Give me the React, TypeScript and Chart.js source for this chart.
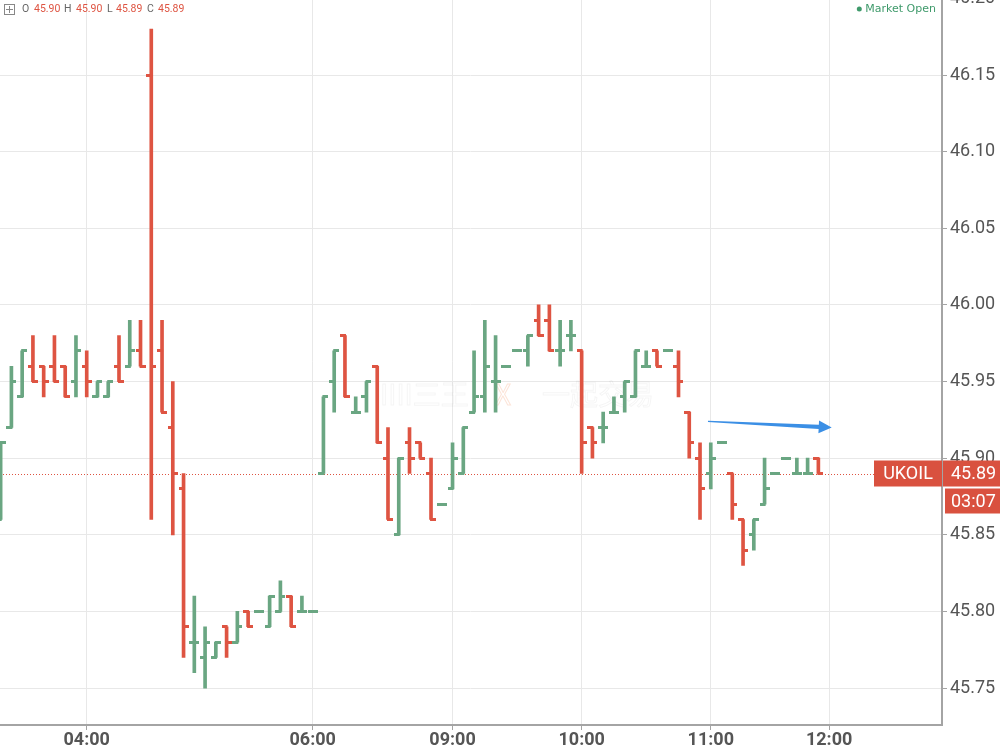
import React, { useEffect, useRef } from "react";
import { Chart, registerables } from "chart.js";

Chart.register(...registerables);

// ---- data (5-minute OHLC bars) ----
const opens = [
  45.86, 45.92, 45.94, 45.96, 45.96, 45.96, 45.96, 45.95, 45.96, 45.94,
  45.94, 45.96, 45.96, 45.97, 46.15, 45.97, 45.92, 45.88, 45.78, 45.77,
  45.77, 45.79, 45.78, 45.80, 45.80, 45.79, 45.80, 45.81, 45.80, 45.80,
  45.89, 45.95, 45.98, 45.93, 45.94, 45.96, 45.90, 45.85, 45.91, 45.91,
  45.89, 45.87, 45.88, 45.89, 45.93, 45.94, 45.95, 45.96, 45.97, 45.97,
  45.99, 45.99, 45.97, 45.98, 45.97, 45.92, 45.92, 45.93, 45.94, 45.94,
  45.96, 45.97, 45.97, 45.96, 45.93, 45.90, 45.89, 45.91, 45.89, 45.86,
  45.85, 45.87, 45.89, 45.90, 45.89, 45.89, 45.90,
];
const highs = [
  45.91, 45.96, 45.97, 45.98, 45.96, 45.98, 45.96, 45.98, 45.97, 45.95,
  45.95, 45.98, 45.99, 45.99, 46.18, 45.99, 45.95, 45.89, 45.81, 45.79,
  45.78, 45.79, 45.80, 45.80, 45.80, 45.81, 45.82, 45.81, 45.81, 45.80,
  45.94, 45.97, 45.98, 45.94, 45.95, 45.96, 45.92, 45.90, 45.92, 45.91,
  45.90, 45.87, 45.91, 45.92, 45.97, 45.99, 45.98, 45.96, 45.97, 45.98,
  46.00, 46.00, 45.99, 45.99, 45.97, 45.92, 45.93, 45.94, 45.95, 45.97,
  45.97, 45.97, 45.97, 45.97, 45.93, 45.91, 45.91, 45.91, 45.89, 45.86,
  45.86, 45.90, 45.89, 45.90, 45.90, 45.90, 45.90,
];
const lows = [
  45.86, 45.92, 45.94, 45.95, 45.94, 45.95, 45.94, 45.94, 45.94, 45.94,
  45.94, 45.95, 45.96, 45.96, 45.86, 45.93, 45.85, 45.77, 45.76, 45.75,
  45.77, 45.77, 45.78, 45.79, 45.80, 45.79, 45.80, 45.79, 45.80, 45.80,
  45.89, 45.93, 45.94, 45.93, 45.93, 45.91, 45.86, 45.85, 45.89, 45.90,
  45.86, 45.87, 45.88, 45.89, 45.93, 45.93, 45.93, 45.96, 45.97, 45.96,
  45.98, 45.97, 45.96, 45.97, 45.89, 45.90, 45.91, 45.93, 45.93, 45.94,
  45.96, 45.96, 45.97, 45.94, 45.90, 45.86, 45.88, 45.91, 45.86, 45.83,
  45.84, 45.87, 45.89, 45.90, 45.89, 45.89, 45.89,
];
const closes = [
  45.91, 45.95, 45.97, 45.95, 45.95, 45.95, 45.94, 45.97, 45.95, 45.95,
  45.95, 45.95, 45.97, 45.96, 45.96, 45.93, 45.89, 45.79, 45.78, 45.78,
  45.78, 45.78, 45.79, 45.79, 45.80, 45.81, 45.81, 45.79, 45.80, 45.80,
  45.94, 45.97, 45.94, 45.93, 45.95, 45.91, 45.86, 45.90, 45.90, 45.90,
  45.86, 45.87, 45.90, 45.92, 45.94, 45.96, 45.95, 45.96, 45.97, 45.98,
  45.98, 45.97, 45.97, 45.98, 45.91, 45.91, 45.92, 45.93, 45.95, 45.97,
  45.96, 45.96, 45.97, 45.95, 45.91, 45.88, 45.90, 45.91, 45.87, 45.84,
  45.86, 45.88, 45.89, 45.90, 45.89, 45.89, 45.89,
];
const timeTickIndex = [8, 29, 42, 54, 66, 77];
const timeTickLabels = ["04:00", "06:00", "09:00", "10:00", "11:00", "12:00"];
const priceTicks = [45.75, 45.8, 45.85, 45.9, 45.95, 46.0, 46.05, 46.1, 46.15, 46.2];
const symbol = "UKOIL";
const lastPrice = 45.89;
const countdown = "03:07";
const headerFields = [
  ["O", "45.90"],
  ["H", "45.90"],
  ["L", "45.89"],
  ["C", "45.89"],
];
const marketStatus = "Market Open";
const arrowFrom = [65.74, 45.924];
const arrowTo = [77.24, 45.92];

// ---- styling ----
const OFFSET = 22;
const UP = "#6aa682";
const DOWN = "#de5442";
const TAG = "#d9513f";
const GRID = "#e8e8e8";
const AXIS = "#a4a4a4";
const TEXT = "#555555";
const HEADER_KEY_X = [22, 64, 107, 147];
const HEADER_VAL_X = [34, 76, 116, 158];

export default function App() {
  const ref = useRef<HTMLCanvasElement>(null);

  useEffect(() => {
    const canvas = ref.current!;
    const mk = (color: string, side: "left" | "right") => {
      const c = document.createElement("canvas");
      c.width = 10;
      c.height = 3;
      const g = c.getContext("2d")!;
      g.fillStyle = color;
      if (side === "left") g.fillRect(0, 0, 6, 3);
      else g.fillRect(4, 0, 6, 3);
      return c;
    };
    const upL = mk(UP, "left");
    const upR = mk(UP, "right");
    const dnL = mk(DOWN, "left");
    const dnR = mk(DOWN, "right");
    const isUp = (i: number) => closes[i] >= opens[i];

    const overlay = {
      id: "overlay",
      beforeDatasetsDraw(chart: any) {
        const { ctx, chartArea, scales } = chart;
        ctx.save();
        // watermark
        ctx.font = '28px "Noto Sans CJK SC"';
        ctx.textBaseline = "middle";
        ctx.lineWidth = 1;
        ctx.strokeStyle = "rgba(0,0,0,0.045)";
        const wy = 394 + OFFSET;
        ctx.strokeText("IIII三王", 380, wy);
        ctx.strokeStyle = "rgba(240,120,60,0.2)";
        ctx.strokeText("X", 495, wy);
        ctx.strokeStyle = "rgba(0,0,0,0.045)";
        ctx.strokeText("一起交易", 542, wy);
        // last price dotted line
        const py = Math.round(scales.y.getPixelForValue(lastPrice)) + 0.5;
        ctx.strokeStyle = DOWN;
        ctx.lineWidth = 1;
        ctx.setLineDash([1, 2]);
        ctx.beginPath();
        ctx.moveTo(chartArea.left, py);
        ctx.lineTo(chartArea.right, py);
        ctx.stroke();
        ctx.restore();
      },
      afterDatasetsDraw(chart: any) {
        const { ctx, scales } = chart;
        const x0 = scales.x.getPixelForValue(arrowFrom[0]);
        const y0 = scales.y.getPixelForValue(arrowFrom[1]);
        const x1 = scales.x.getPixelForValue(arrowTo[0]);
        const y1 = scales.y.getPixelForValue(arrowTo[1]);
        const len = Math.hypot(x1 - x0, y1 - y0);
        const dx = (x1 - x0) / len;
        const dy = (y1 - y0) / len;
        const nx = -dy;
        const ny = dx;
        const headLen = 13;
        const bx = x1 - dx * headLen;
        const by = y1 - dy * headLen;
        ctx.save();
        ctx.fillStyle = "#3b8fe5";
        ctx.beginPath();
        ctx.moveTo(x0 + nx * 0.6, y0 + ny * 0.6);
        ctx.lineTo(bx + nx * 2.2, by + ny * 2.2);
        ctx.lineTo(bx + nx * 6.5, by + ny * 6.5);
        ctx.lineTo(x1, y1);
        ctx.lineTo(bx - nx * 6.5, by - ny * 6.5);
        ctx.lineTo(bx - nx * 2.2, by - ny * 2.2);
        ctx.lineTo(x0 - nx * 0.6, y0 - ny * 0.6);
        ctx.closePath();
        ctx.fill();
        ctx.restore();
      },
      afterDraw(chart: any) {
        const { ctx, chartArea, scales } = chart;
        const py = scales.y.getPixelForValue(lastPrice);
        ctx.save();
        // tags
        ctx.fillStyle = TAG;
        ctx.fillRect(chartArea.right - 68, py - 13, 68, 26);
        ctx.fillRect(chartArea.right + 1, py - 13, chart.width - chartArea.right - 1, 26);
        ctx.fillRect(chartArea.right + 3, py + 15, chart.width - chartArea.right - 3, 25);
        ctx.fillStyle = "#ffffff";
        ctx.font = "18px Roboto";
        ctx.textBaseline = "middle";
        ctx.textAlign = "center";
        ctx.fillText(symbol, chartArea.right - 34, py + 1);
        ctx.textAlign = "left";
        ctx.fillText(lastPrice.toFixed(2), chartArea.right + 9, py + 1);
        ctx.fillText(countdown, chartArea.right + 9, py + 28.5);
        // header
        const hy = 9 + OFFSET;
        ctx.strokeStyle = "#888";
        ctx.lineWidth = 1;
        ctx.strokeRect(4.5, 4.5 + OFFSET, 10, 10);
        ctx.beginPath();
        ctx.moveTo(9.5, 6 + OFFSET);
        ctx.lineTo(9.5, 13 + OFFSET);
        ctx.moveTo(6, 9.5 + OFFSET);
        ctx.lineTo(13, 9.5 + OFFSET);
        ctx.stroke();
        ctx.font = "10.5px Roboto";
        ctx.textAlign = "left";
        headerFields.forEach(([k, v], i) => {
          ctx.fillStyle = "#666";
          ctx.fillText(k, HEADER_KEY_X[i], hy + 0.5);
          ctx.fillStyle = DOWN;
          ctx.fillText(v, HEADER_VAL_X[i], hy + 0.5);
        });
        // market status
        ctx.font = '11px "DejaVu Sans"';
        ctx.textAlign = "right";
        ctx.fillStyle = "#3f9a6b";
        ctx.fillText(marketStatus, 936, hy);
        const mw = ctx.measureText(marketStatus).width;
        ctx.beginPath();
        ctx.arc(936 - mw - 6, hy, 2.5, 0, Math.PI * 2);
        ctx.fill();
        ctx.restore();
      },
    };

    const chart = new Chart(canvas, {
      type: "bar",
      data: {
        datasets: [
          {
            type: "bar",
            data: opens.map((_, i) => ({ x: i, y: [lows[i], highs[i]] })) as any,
            backgroundColor: opens.map((_, i) => (isUp(i) ? UP : DOWN)),
            borderWidth: 0,
            barThickness: 3,
            grouped: false,
            order: 2,
          } as any,
          {
            type: "line",
            data: opens.map((o, i) => ({ x: i, y: o })),
            showLine: false,
            pointRadius: 5,
            pointHoverRadius: 5,
            pointStyle: (c: any) => (isUp(c.dataIndex) ? upL : dnL),
            order: 1,
          } as any,
          {
            type: "line",
            data: closes.map((v, i) => ({ x: i, y: v })),
            showLine: false,
            pointRadius: 5,
            pointHoverRadius: 5,
            pointStyle: (c: any) => (isUp(c.dataIndex) ? upR : dnR),
            order: 0,
          } as any,
        ],
      },
      options: {
        animation: false,
        responsive: false,
        events: [],
        layout: { autoPadding: false, padding: { top: 20.4, left: 0, right: 0, bottom: 0 } },
        plugins: { legend: { display: false }, tooltip: { enabled: false } },
        scales: {
          x: {
            type: "linear",
            min: -0.06,
            max: 87.49,
            offset: false,
            grid: { offset: false, color: GRID, tickColor: AXIS, tickLength: 5, drawTicks: true },
            border: { display: true, color: AXIS, width: 2 },
            afterBuildTicks: (s: any) => {
              s.ticks = timeTickIndex.map((v) => ({ value: v }));
            },
            afterFit: (s: any) => {
              s.height = 27;
            },
            ticks: {
              autoSkip: false,
              maxRotation: 0,
              padding: 0,
              color: TEXT,
              font: { family: "Roboto", size: 18, weight: "bold" },
              callback: (v: any) => {
                const k = timeTickIndex.indexOf(Number(v));
                return k >= 0 ? timeTickLabels[k] : "";
              },
            },
          },
          y: {
            type: "linear",
            position: "right",
            min: 45.7259,
            max: 46.2,
            beginAtZero: false,
            grid: { color: GRID, tickColor: AXIS, tickLength: 5, drawTicks: true },
            border: { display: true, color: AXIS, width: 2 },
            afterBuildTicks: (s: any) => {
              s.ticks = priceTicks.map((v) => ({ value: v }));
            },
            afterFit: (s: any) => {
              s.width = 58;
            },
            ticks: {
              padding: 3,
              color: TEXT,
              font: { family: "Roboto", size: 18 },
              callback: (v: any) => Number(v).toFixed(2),
            },
          },
        },
      } as any,
      plugins: [overlay],
    });
    return () => chart.destroy();
  }, []);

  return (
    <div
      style={{
        position: "fixed",
        left: 0,
        top: 0,
        width: 1000,
        height: 752,
        overflow: "hidden",
        background: "#ffffff",
      }}
    >
      <canvas
        ref={ref}
        width={1000}
        height={752 + OFFSET}
        style={{ position: "absolute", left: 0, top: -OFFSET, width: 1000, height: 752 + OFFSET }}
      />
    </div>
  );
}
